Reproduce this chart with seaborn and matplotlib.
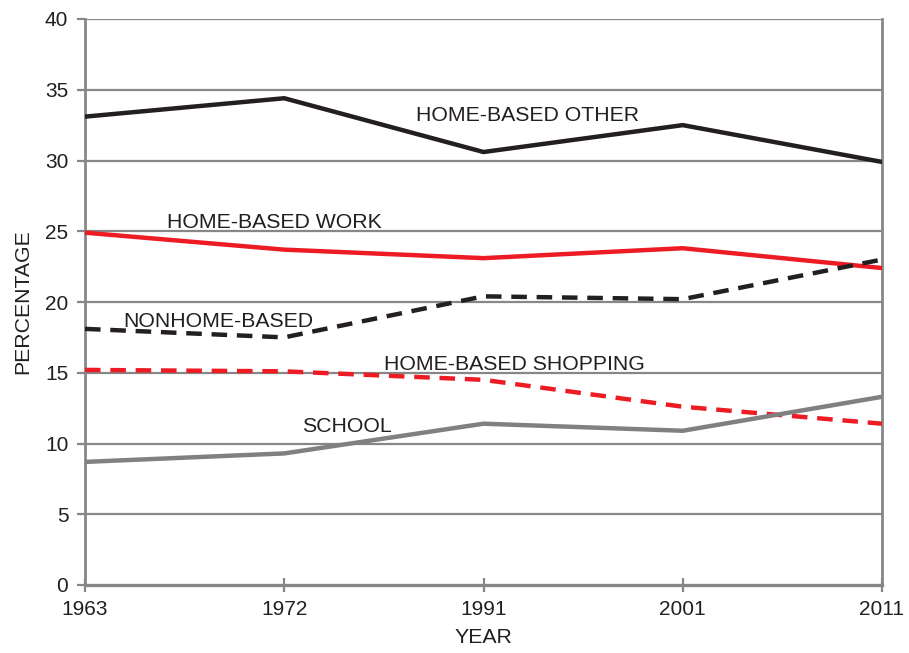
import pandas as pd
import seaborn as sns
import matplotlib.pyplot as plt

# data
years = ['1963', '1972', '1991', '2001', '2011']
hb_other = [33.1, 34.4, 30.6, 32.5, 29.9]
hb_work = [24.9, 23.7, 23.1, 23.8, 22.4]
nonhome = [18.1, 17.5, 20.4, 20.2, 23.0]
hb_shop = [15.2, 15.1, 14.5, 12.6, 11.4]
school = [8.7, 9.3, 11.4, 10.9, 13.3]

series_names = ['HOME-BASED OTHER', 'HOME-BASED WORK', 'NONHOME-BASED',
                'HOME-BASED SHOPPING', 'SCHOOL']
series_vals = [hb_other, hb_work, nonhome, hb_shop, school]

# label placement (x index, y value)
label_pos = [(1.66, 33.2), (0.41, 25.65), (0.19, 18.6), (1.50, 15.6), (1.09, 11.2)]

colors = {'HOME-BASED OTHER': '#231f20', 'HOME-BASED WORK': '#ed1c24',
          'NONHOME-BASED': '#231f20', 'HOME-BASED SHOPPING': '#ed1c24',
          'SCHOOL': '#808080'}
dashed = {'NONHOME-BASED', 'HOME-BASED SHOPPING'}

rows = []
for name, vals in zip(series_names, series_vals):
    for i, v in enumerate(vals):
        rows.append({'pos': i, 'pct': v, 'trip': name})
df = pd.DataFrame(rows)

sns.set_style('white')
plt.rcParams['font.family'] = ['Liberation Sans', 'DejaVu Sans']

grid_col = '#878787'
text_col = '#231f20'

fig = plt.figure(figsize=(9.09, 6.53), dpi=100)
ax = fig.add_axes([85 / 909, 68 / 653, 797 / 909, 566 / 653])

for name in series_names:
    sub = df[df['trip'] == name]
    ls = (0, (3.5, 2.2)) if name in dashed else '-'
    sns.lineplot(data=sub, x='pos', y='pct', ax=ax, color=colors[name],
                 linewidth=3.2, linestyle=ls, zorder=3, legend=False)

for name, (lx, ly) in zip(series_names, label_pos):
    ax.text(lx, ly, name, fontsize=15.3, color=text_col, ha='left', va='center', zorder=4)

ax.set_xlim(0, len(years) - 1)
ax.set_ylim(0, 40)
ax.set_xticks(range(len(years)))
ax.set_xticklabels(years)
ax.set_yticks(range(0, 41, 5))

for y in range(5, 41, 5):
    ax.axhline(y, color=grid_col, lw=1.6, zorder=1)

for side in ['left', 'right', 'bottom']:
    ax.spines[side].set_color(grid_col)
    ax.spines[side].set_linewidth(2)
ax.spines['bottom'].set_linewidth(2.4)
ax.spines['top'].set_visible(False)

ax.tick_params(axis='y', direction='out', length=6, width=1.6, color=grid_col,
               pad=6, labelsize=15, labelcolor=text_col, left=True)
ax.tick_params(axis='x', direction='inout', length=10, width=1.6, color=grid_col,
               pad=6, labelsize=15, labelcolor=text_col, bottom=True)

ax.set_xlabel('YEAR', fontsize=15.3, color=text_col, labelpad=6)
ax.set_ylabel('PERCENTAGE', fontsize=15.3, color=text_col, labelpad=9)

fig.savefig('out.png', dpi=100)
